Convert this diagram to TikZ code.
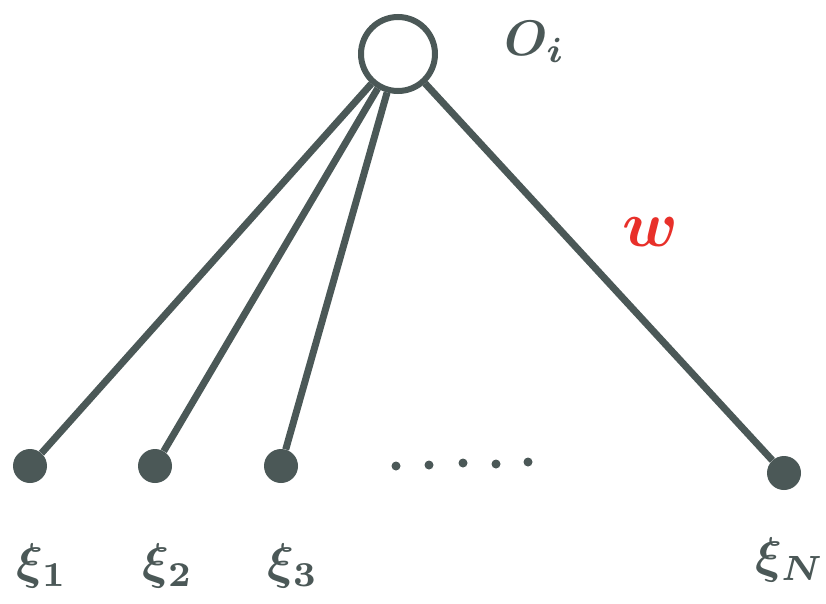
\documentclass[tikz,border=0pt]{standalone}
\usepackage{xcolor}
\definecolor{ink}{HTML}{4B5857}
\definecolor{redink}{HTML}{E8302A}
\begin{document}
\begin{tikzpicture}[x=1pt,y=-1pt,
  edge/.style={draw=ink,line width=7pt},
  inputdot/.style={circle,fill=ink,inner sep=0pt,minimum size=34pt},
  smalldot/.style={circle,fill=ink,inner sep=0pt,minimum size=9pt},
  lbl/.style={text=ink,scale=5,font=\boldmath},
  outnode/.style={circle,draw=ink,line width=6pt,fill=white,inner sep=0pt,minimum size=74pt}]
\useasboundingbox (0,0) rectangle (826,603);
\node[outnode] (o) at (398,54) {};
\node[inputdot] (d1) at (30,466) {};
\node[inputdot] (d2) at (155,466) {};
\node[inputdot] (d3) at (281,466) {};
\node[inputdot] (dN) at (784,473) {};
\draw[edge] (o) -- (d1);
\draw[edge] (o) -- (d2);
\draw[edge] (o) -- (d3);
\draw[edge] (o) -- (dN);
\node[smalldot] (e1) at (396,466) {};
\node[smalldot] (e2) at (429,465) {};
\node[smalldot] (e3) at (463,463) {};
\node[smalldot] (e4) at (496,464) {};
\node[smalldot] (e5) at (528,462) {};
\node[lbl] (lo) at (535,42) {$O_i$};
\node[lbl,text=redink,scale=1.3] (lw) at (650,232) {$w$};
\node[lbl] (l1) at (42,566) {$\xi_1$};
\node[lbl] (l2) at (168,566) {$\xi_2$};
\node[lbl] (l3) at (293,566) {$\xi_3$};
\node[lbl] (lN) at (790,560) {$\xi_N$};
\end{tikzpicture}
\end{document}
